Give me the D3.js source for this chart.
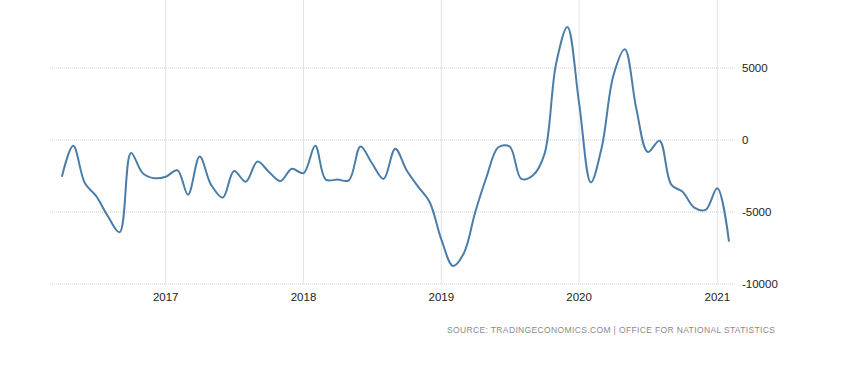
<!DOCTYPE html>
<html>
<head>
<meta charset="utf-8">
<script src="https://cdn.jsdelivr.net/npm/d3@7"></script>
<style>
  body { margin: 0; background: #fff; }
  #chart { width: 859px; height: 374px; }
</style>
</head>
<body>
<div id="chart"></div>
<script>
// monthly values, Apr 2016 .. Feb 2021
var months = ["2016-04","2016-05","2016-06","2016-07","2016-08","2016-09","2016-10","2016-11","2016-12",
  "2017-01","2017-02","2017-03","2017-04","2017-05","2017-06","2017-07","2017-08","2017-09","2017-10","2017-11","2017-12",
  "2018-01","2018-02","2018-03","2018-04","2018-05","2018-06","2018-07","2018-08","2018-09","2018-10","2018-11","2018-12",
  "2019-01","2019-02","2019-03","2019-04","2019-05","2019-06","2019-07","2019-08","2019-09","2019-10","2019-11","2019-12",
  "2020-01","2020-02","2020-03","2020-04","2020-05","2020-06","2020-07","2020-08","2020-09","2020-10","2020-11","2020-12",
  "2021-01","2021-02"];
var values = [-2550,-400,-3000,-3900,-5300,-6400,-900,-2300,-2650,
  -2550,-2100,-3800,-1150,-3100,-4000,-2150,-2900,-1500,-2200,-2850,-2000,
  -2300,-400,-2750,-2750,-2800,-450,-1600,-2700,-600,-2100,-3250,-4300,
  -6900,-8750,-7900,-5000,-2550,-500,-450,-2700,-2450,-1000,5300,7850,
  2550,-2950,-500,4500,6300,2100,-830,-50,-3100,-3600,-4700,-4850,
  -3350,-7060];
var yTicks = [-10000, -5000, 0, 5000, 10000];
var xTicks = ["2017","2018","2019","2020","2021"];
var source = "SOURCE: TRADINGECONOMICS.COM | OFFICE FOR NATIONAL STATISTICS";

var parse = d3.timeParse("%Y-%m");
var data = months.map(function (m, i) { return { date: parse(m), value: values[i] }; });

var svg = d3.select("#chart").append("svg")
  .attr("width", 859)
  .attr("height", 374)
  .style("font-family", "'Liberation Sans', Arial, sans-serif");

var x = d3.scaleTime()
  .domain([new Date(2017, 0, 1), new Date(2021, 0, 1)])
  .range([165.7, 717.3]);

var y = d3.scaleLinear()
  .domain([-10000, 10000])
  .range([284, -4]);

var left = 50, right = 733;

// vertical year grid
svg.selectAll("line.vgrid")
  .data(xTicks)
  .enter().append("line")
  .attr("class", "vgrid")
  .attr("x1", function (d) { return x(new Date(+d, 0, 1)); })
  .attr("x2", function (d) { return x(new Date(+d, 0, 1)); })
  .attr("y1", 0)
  .attr("y2", y(-10000))
  .attr("stroke", "#e4e4e4")
  .attr("stroke-width", 1);

// horizontal dotted grid
svg.selectAll("line.hgrid")
  .data(yTicks)
  .enter().append("line")
  .attr("class", "hgrid")
  .attr("x1", left)
  .attr("x2", right)
  .attr("y1", function (d) { return y(d); })
  .attr("y2", function (d) { return y(d); })
  .attr("stroke", "#cfcfcf")
  .attr("stroke-width", 1)
  .attr("stroke-dasharray", "1,1");

// y labels on the right
svg.selectAll("text.ylab")
  .data(yTicks)
  .enter().append("text")
  .attr("class", "ylab")
  .attr("x", 742)
  .attr("y", function (d) { return y(d); })
  .attr("dy", "0.35em")
  .style("font-size", "11.5px")
  .style("fill", "#222")
  .text(function (d) { return d; });

// x labels
svg.selectAll("text.xlab")
  .data(xTicks)
  .enter().append("text")
  .attr("class", "xlab")
  .attr("x", function (d) { return x(new Date(+d, 0, 1)); })
  .attr("y", 297)
  .attr("dy", "0.35em")
  .attr("text-anchor", "middle")
  .style("font-size", "11.5px")
  .style("fill", "#222")
  .text(function (d) { return d; });

var line = d3.line()
  .x(function (d) { return x(d.date); })
  .y(function (d) { return y(d.value); })
  .curve(d3.curveCatmullRom.alpha(0.5));

svg.append("path")
  .datum(data)
  .attr("d", line)
  .attr("fill", "none")
  .attr("stroke", "#4a7ea8")
  .attr("stroke-width", 2);

svg.append("text")
  .attr("x", 447)
  .attr("y", 330)
  .attr("dy", "0.35em")
  .attr("textLength", 328)
  .attr("lengthAdjust", "spacing")
  .style("font-size", "8.5px")
  .style("fill", "#8a8a8a")
  .text(source);
</script>
</body>
</html>
